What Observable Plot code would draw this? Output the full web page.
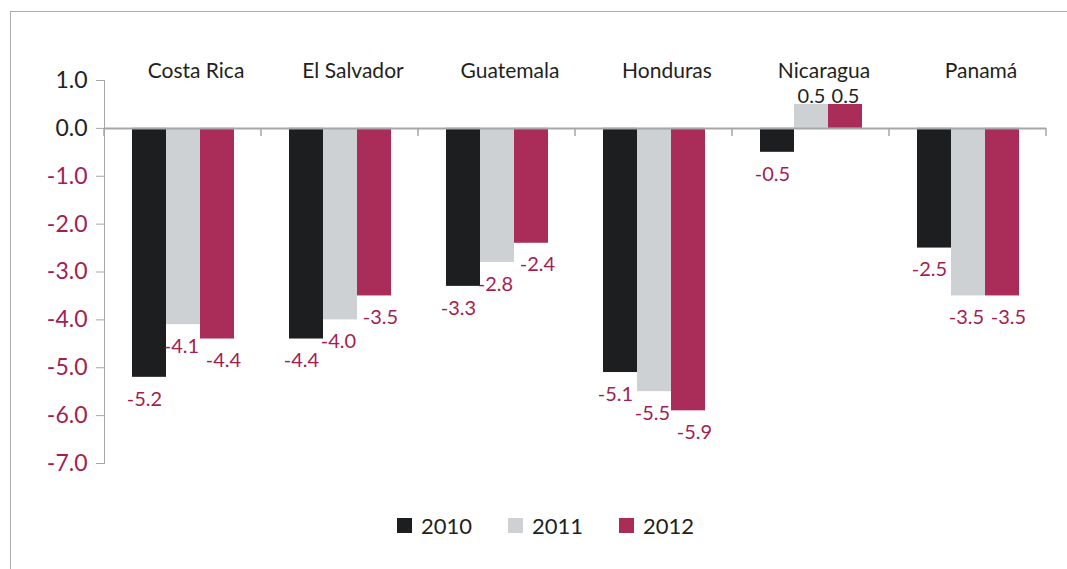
<!DOCTYPE html>
<html>
<head>
<meta charset="utf-8">
<script src="https://cdn.jsdelivr.net/npm/d3@7"></script>
<script src="https://cdn.jsdelivr.net/npm/@observablehq/plot@0.6"></script>
<style>
  html, body { margin: 0; padding: 0; background: #fff; overflow: hidden; }
  #wrap { position: relative; width: 1067px; height: 569px; font-family: Lato, "Open Sans", sans-serif; }
  #border { position: absolute; left: 10px; top: 11px; width: 2000px; height: 2000px; border-top: 1px solid #ababab; border-left: 1px solid #ababab; }
  #chart { position: absolute; left: 0; top: 0; }
  #legend { position: absolute; left: 397px; top: 512px; display: flex; align-items: center; gap: 36px; font-size: 22px; color: #231f20; }
  #legend .item { display: flex; align-items: center; gap: 9px; }
  #legend .sw { width: 15px; height: 15px; display: inline-block; }
</style>
</head>
<body>
<div id="wrap">
  <div id="border"></div>
  <div id="chart"></div>
  <div id="legend"></div>
</div>
<script>
const countries = ["Costa Rica", "El Salvador", "Guatemala", "Honduras", "Nicaragua", "Panamá"];
const years = ["2010", "2011", "2012"];
const values2010 = [-5.2, -4.4, -3.3, -5.1, -0.5, -2.5];
const values2011 = [-4.1, -4.0, -2.8, -5.5, 0.5, -3.5];
const values2012 = [-4.4, -3.5, -2.4, -5.9, 0.5, -3.5];
const yTicks = [1, 0, -1, -2, -3, -4, -5, -6, -7];
const seriesColors = ["#1d1e20", "#cdd1d4", "#a92d58"];

const crimson = "#a51d50";
const dark = "#231f20";
const axisGray = "#a6a6a6";
const labelShift = {"2010": -5, "2011": -2, "2012": 6};

const seriesValues = [values2010, values2011, values2012];
const data = [];
countries.forEach((c, i) => {
  years.forEach((y, j) => {
    data.push({country: c, year: y, value: seriesValues[j][i]});
  });
});

const labelMarks = years.map(yr => Plot.text(data.filter(d => d.year === yr && d.value < 0), {
  fx: "country", x: "year", y: "value", text: d => d.value.toFixed(1),
  lineAnchor: "top", dy: 14, dx: labelShift[yr], fill: crimson, fontSize: 20
}));

const chart = Plot.plot({
  width: 1067,
  height: 490,
  marginLeft: 104,
  marginRight: 21,
  marginTop: 80,
  marginBottom: 27,
  style: {fontFamily: "Lato, 'Open Sans', sans-serif", background: "transparent", overflow: "visible"},
  fx: {domain: countries, paddingInner: 0, paddingOuter: 0, label: null},
  x: {domain: years, paddingInner: 0, paddingOuter: 0.76, axis: null},
  y: {domain: [-7, 1], axis: null},
  color: {domain: years, range: seriesColors},
  marks: [
    Plot.barY(data, {fx: "country", x: "year", y: "value", fill: "year"}),
    Plot.ruleY([0], {stroke: axisGray, strokeWidth: 2}),
    Plot.frame({anchor: "left", facetAnchor: "left", stroke: axisGray}),
    Plot.axisY({ticks: yTicks, tickSize: 8, tickPadding: 9, tickFormat: d => d.toFixed(1),
      fontSize: 23, fill: d => d < 0 ? crimson : dark, stroke: axisGray, label: null}),
    Plot.axisFx({anchor: "top", tickSize: 0, tickPadding: 3, label: null, fontSize: 21, fill: dark, dx: 13}),
    ...labelMarks,
    Plot.text(data.filter(d => d.value >= 0), {fx: "country", x: "year", y: "value",
      text: d => d.value.toFixed(1), lineAnchor: "bottom", dy: -1, fill: dark, fontSize: 20})
  ]
});
document.getElementById("chart").appendChild(chart);

// band-boundary tick marks on the zero line, using Plot's own scales
const fxScale = chart.scale("fx");
const yScale = chart.scale("y");
const y0 = yScale.apply(0);
const bounds = countries.map(c => fxScale.apply(c));
bounds.push(fxScale.apply(countries[countries.length - 1]) + fxScale.bandwidth);
d3.select(chart).append("g")
  .selectAll("line")
  .data(bounds)
  .join("line")
  .attr("x1", d => d).attr("x2", d => d)
  .attr("y1", y0).attr("y2", y0 + 8)
  .attr("stroke", axisGray).attr("stroke-width", 1.5);

// legend
const legend = d3.select("#legend");
years.forEach((y, i) => {
  const item = legend.append("div").attr("class", "item");
  item.append("span").attr("class", "sw").style("background", seriesColors[i]);
  item.append("span").text(y);
});
</script>
</body>
</html>
